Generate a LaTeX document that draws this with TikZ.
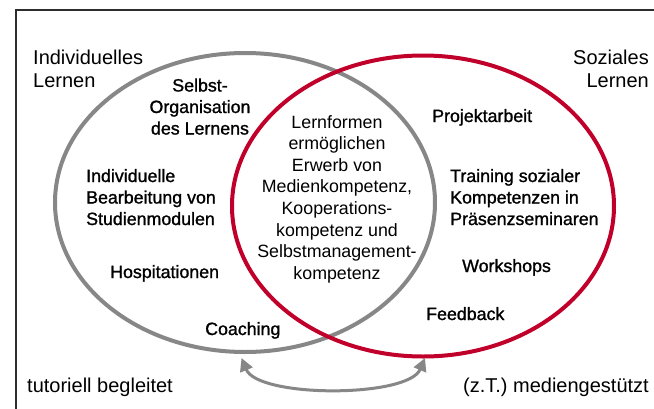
\documentclass[tikz,border=0pt]{standalone}
\usepackage{fontspec}
\setmainfont{Liberation Sans}
\newfontfamily\lblfont{Liberation Sans}[FakeBold=1.2]
\usetikzlibrary{arrows.meta}
\definecolor{cgray}{RGB}{135,135,135}
\definecolor{cred}{RGB}{192,0,42}
\definecolor{cframe}{RGB}{45,45,45}
\newcommand\rowsL[1]{\begin{tabular}[t]{@{}l@{}}#1\end{tabular}}
\newcommand\rowsC[1]{\begin{tabular}[t]{@{}c@{}}#1\end{tabular}}
\newcommand\rowsR[1]{\begin{tabular}[t]{@{}r@{}}#1\end{tabular}}
\tikzset{
  lbl/.style={inner sep=0pt, font=\lblfont\fontsize{17.8}{21.5}\selectfont},
  ctr/.style={inner sep=0pt, font=\fontsize{17.8}{21.6}\selectfont},
  big/.style={inner sep=0pt, font=\fontsize{20}{23.3}\selectfont},
  ring/.style={line width=4pt},
  link/.style={cgray, line width=3pt, {Triangle[length=13pt,width=13pt]}-{Triangle[length=13pt,width=13pt]}}
}
\begin{document}
\begin{tikzpicture}[x=1pt,y=-1pt]
\useasboundingbox (0,0) rectangle (654,408);
\fill[white] (0,0) rectangle (654,408);
\draw[cframe, line width=2pt] (16,10) rectangle (670,430);
% rings
\draw[ring, cgray] (245,202.5) ellipse [x radius=190, y radius=149.5];
\draw[ring, cred] (423,206) ellipse [x radius=191, y radius=150.5];
% corner labels
\node[big, anchor=base west] (indiv) at (33,64) {\rowsL{Individuelles\\Lernen}};
\node[big, anchor=base east] (sozial) at (649,64) {\rowsR{Soziales\\Lernen}};
\node[big, anchor=base west] (tutor) at (27,392) {tutoriell begleitet};
\node[big, anchor=base east] (medien) at (649,392) {(z.T.) mediengestützt};
% left labels
\node[lbl, anchor=base] (selbst) at (200,91.5) {\rowsC{Selbst-\\Organisation\\des Lernens}};
\node[lbl, anchor=base west] (bearb) at (86,182) {\rowsL{Individuelle\\Bearbeitung von\\Studienmodulen}};
\node[lbl, anchor=base west] (hosp) at (110,278) {Hospitationen};
\node[lbl, anchor=base west] (coach) at (205,335) {Coaching};
% centre
\node[ctr, anchor=base] (mitte) at (337,128) {\rowsC{Lernformen\\ermöglichen\\Erwerb von\\Medienkompetenz,\\Kooperations-\\kompetenz und\\Selbstmanagement-\\kompetenz}};
% right labels
\node[lbl, anchor=base west] (projekt) at (432,122) {Projektarbeit};
\node[lbl, anchor=base west] (training) at (450,182) {\rowsL{Training sozialer\\Kompetenzen in\\Präsenzseminaren}};
\node[lbl, anchor=base west] (work) at (462,272) {Workshops};
\node[lbl, anchor=base west] (feed) at (426,320) {Feedback};
% two-headed link
\coordinate (aL) at (241.5,358);
\coordinate (aR) at (425,358);
\draw[link] (aL) .. controls (258,398) and (408,398) .. (aR);
\end{tikzpicture}
\end{document}
